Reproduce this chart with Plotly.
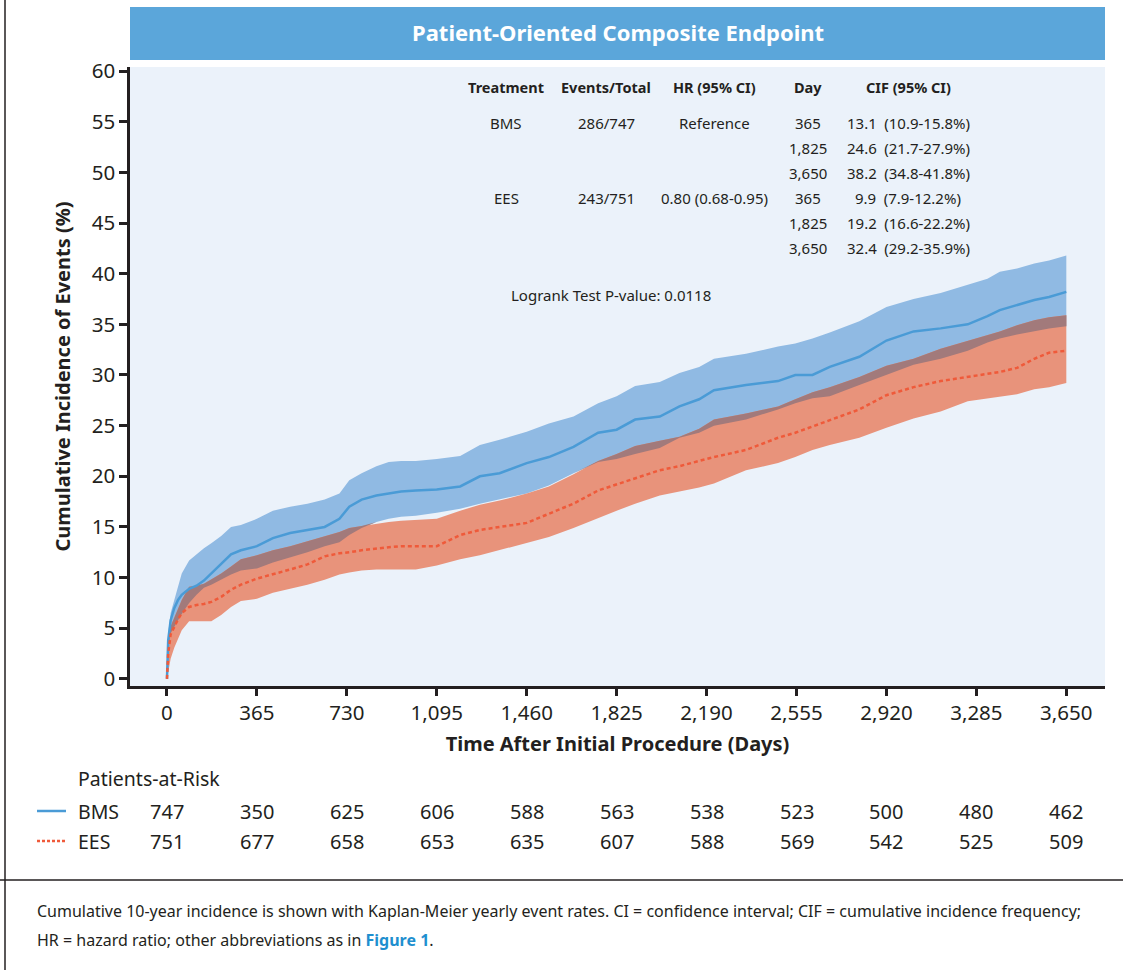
import numpy as np
import plotly.graph_objects as go

# ---- Data -----------------------------------------------------------------
days = [0, 5, 15, 30, 45, 60, 90, 120, 150, 180, 220, 260, 300, 365, 430, 500,
        570, 640, 700, 740, 790, 850, 900, 950, 1010, 1095, 1190, 1270, 1350,
        1460, 1550, 1650, 1750, 1825, 1900, 2000, 2080, 2160, 2220, 2350, 2480,
        2550, 2620, 2690, 2810, 2920, 3030, 3140, 3250, 3330, 3380, 3450, 3520,
        3580, 3650]

bms_cif = [0, 3.8, 5.8, 7.0, 7.8, 8.3, 8.9, 9.2, 9.7, 10.4, 11.4, 12.3, 12.7, 13.1,
           13.9, 14.4, 14.7, 15.0, 15.8, 17.0, 17.7, 18.1, 18.3, 18.5, 18.6, 18.7,
           19.0, 20.0, 20.3, 21.3, 21.9, 22.9, 24.3, 24.6, 25.6, 25.9, 26.9, 27.6,
           28.5, 29.0, 29.4, 30.0, 30.0, 30.8, 31.8, 33.4, 34.3, 34.6, 35.0, 35.8,
           36.4, 36.9, 37.4, 37.7, 38.2]
bms_upper = [0, 4.5, 6.5, 7.8, 9.2, 10.4, 11.7, 12.3, 12.9, 13.4, 14.1, 15.0, 15.2,
             15.8, 16.6, 17.0, 17.3, 17.7, 18.3, 19.6, 20.3, 21.0, 21.4, 21.5, 21.5,
             21.7, 22.0, 23.1, 23.6, 24.4, 25.2, 25.9, 27.2, 27.9, 28.9, 29.3, 30.2,
             30.8, 31.6, 32.1, 32.8, 33.1, 33.6, 34.2, 35.3, 36.7, 37.5, 38.1, 38.9,
             39.5, 40.2, 40.5, 41.0, 41.3, 41.8]
bms_lower = [0, 3.0, 4.5, 5.2, 5.8, 6.4, 7.5, 8.3, 9.0, 9.3, 9.8, 10.3, 10.7, 10.9,
             11.5, 12.0, 12.5, 13.1, 13.5, 14.2, 14.9, 15.5, 15.8, 16.0, 16.1, 16.4,
             16.8, 17.3, 17.7, 18.3, 19.1, 20.3, 21.4, 21.7, 22.2, 22.8, 23.8, 24.3,
             25.0, 25.6, 26.6, 27.2, 27.7, 27.9, 29.0, 30.0, 31.0, 31.6, 32.4, 33.2,
             33.6, 34.0, 34.3, 34.6, 34.8]

ees_cif = [0, 2.5, 4.4, 5.2, 5.9, 6.5, 7.1, 7.3, 7.4, 7.6, 8.1, 8.8, 9.3, 9.9, 10.3,
           10.8, 11.3, 12.1, 12.4, 12.5, 12.7, 12.9, 13.0, 13.1, 13.1, 13.1, 14.2,
           14.7, 15.0, 15.4, 16.3, 17.3, 18.6, 19.2, 19.8, 20.6, 21.0, 21.5, 21.9,
           22.6, 23.8, 24.3, 24.9, 25.5, 26.6, 28.0, 28.8, 29.4, 29.8, 30.1, 30.3,
           30.7, 31.6, 32.2, 32.4]
ees_upper = [0, 3.8, 5.2, 6.1, 7.0, 7.8, 9.1, 9.2, 9.4, 9.8, 10.4, 11.1, 11.8, 12.2,
             12.7, 13.1, 13.6, 14.1, 14.5, 14.9, 15.1, 15.3, 15.5, 15.6, 15.7, 15.8,
             16.6, 17.2, 17.6, 18.3, 19.0, 20.2, 21.5, 22.2, 23.0, 23.5, 23.9, 24.7,
             25.6, 26.2, 26.9, 27.6, 28.3, 28.8, 29.8, 30.9, 31.6, 32.6, 33.4, 34.0,
             34.3, 34.9, 35.4, 35.7, 35.9]
ees_lower = [0, 0.6, 2.0, 3.1, 4.0, 4.8, 5.7, 5.7, 5.7, 5.7, 6.3, 7.1, 7.7, 7.9, 8.5,
             8.9, 9.3, 9.8, 10.3, 10.5, 10.7, 10.8, 10.8, 10.8, 10.8, 11.2, 11.8, 12.2,
             12.7, 13.4, 14.0, 14.9, 15.9, 16.6, 17.3, 18.1, 18.5, 18.9, 19.3, 20.6,
             21.3, 21.9, 22.6, 23.1, 23.8, 24.8, 25.7, 26.4, 27.4, 27.7, 27.9, 28.1,
             28.6, 28.8, 29.2]

tick_days = [0, 365, 730, 1095, 1460, 1825, 2190, 2555, 2920, 3285, 3650]
tick_text = ["0", "365", "730", "1,095", "1,460", "1,825", "2,190", "2,555",
             "2,920", "3,285", "3,650"]
bms_at_risk = [747, 350, 625, 606, 588, 563, 538, 523, 500, 480, 462]
ees_at_risk = [751, 677, 658, 653, 635, 607, 588, 569, 542, 525, 509]

table_header = ["Treatment", "Events/Total", "HR (95% CI)", "Day", "CIF (95% CI)"]
table_groups = ["BMS", "EES"]
table_events = ["286/747", "243/751"]
table_hr = ["Reference", "0.80 (0.68-0.95)"]
table_days = ["365", "1,825", "3,650"]
cif_value = [["13.1", "24.6", "38.2"], ["9.9", "19.2", "32.4"]]
cif_interval = [["(10.9-15.8%)", "(21.7-27.9%)", "(34.8-41.8%)"],
                ["(7.9-12.2%)", "(16.6-22.2%)", "(29.2-35.9%)"]]

# ---- Styling --------------------------------------------------------------
FONT = "Noto Sans"
INK = "#231f20"
BLUE_LINE = "#4a9bd6"
BLUE_BAND = "#90bae3"
RED_LINE = "#ef5a3a"
RED_BAND = "#e8937b"
BOTH_BAND = "#a27a7b"
PLOT_BG = "#ebf2fa"
HEADER_BG = "#5ba6da"
SHAPE = "linear"

W, H = 1123, 970
L, R, T, B = 130, 1105, 67, 686   # plotting-area box in pixels


def px(x):
    return (x - L) / (R - L)


def py(y):
    return (B - y) / (B - T)


# region where both confidence bands cover the same values
both_lo = np.maximum(bms_lower, ees_lower)
both_hi = np.minimum(bms_upper, ees_upper)
both_hi = np.maximum(both_hi, both_lo)

fig = go.Figure()


def band(lo, hi, color):
    fig.add_trace(go.Scatter(x=days, y=lo, mode="lines", line=dict(width=0, shape=SHAPE),
                             hoverinfo="skip", showlegend=False))
    fig.add_trace(go.Scatter(x=days, y=hi, mode="lines", line=dict(width=0, shape=SHAPE),
                             fill="tonexty", fillcolor=color, hoverinfo="skip",
                             showlegend=False))


band(bms_lower, bms_upper, BLUE_BAND)
band(ees_lower, ees_upper, RED_BAND)
band(both_lo, both_hi, BOTH_BAND)

fig.add_trace(go.Scatter(x=days, y=bms_cif, mode="lines", name="BMS",
                         line=dict(color=BLUE_LINE, width=2.5, shape=SHAPE),
                         showlegend=False))
fig.add_trace(go.Scatter(x=days, y=ees_cif, mode="lines", name="EES",
                         line=dict(color=RED_LINE, width=2.5, shape=SHAPE, dash="4px,3px"),
                         showlegend=False))

tick_font = dict(family=FONT, size=20.5, color=INK)
title_font = dict(family=FONT, size=20, color=INK)
fig.update_xaxes(range=[-150, 3807], tickvals=tick_days, ticktext=tick_text,
                 showgrid=False, zeroline=False, showline=True, linecolor=INK,
                 linewidth=2.5, ticks="outside", ticklen=7, tickwidth=2.5,
                 tickcolor=INK, tickfont=tick_font,
                 title=dict(text="<b>Time After Initial Procedure (Days)</b>",
                            font=title_font, standoff=12))
fig.update_yaxes(range=[-0.7, 60.4], tickvals=list(range(0, 61, 5)),
                 showgrid=False, zeroline=False, showline=True, linecolor=INK,
                 linewidth=2.5, ticks="outside", ticklen=8, tickwidth=2.5,
                 tickcolor=INK, tickfont=tick_font,
                 title=dict(text="<b>Cumulative Incidence of Events (%)</b>",
                            font=title_font, standoff=16))

shapes = [
    # header bar
    dict(type="rect", xref="paper", yref="paper", x0=px(130), x1=px(1105),
         y0=py(60), y1=py(7), fillcolor=HEADER_BG, line=dict(width=0), layer="below"),
    # page frame
    dict(type="line", xref="paper", yref="paper", x0=px(5), x1=px(5),
         y0=py(0), y1=py(970), line=dict(color=INK, width=1.5)),
    dict(type="line", xref="paper", yref="paper", x0=px(0), x1=px(1123),
         y0=py(880), y1=py(880), line=dict(color=INK, width=1.5)),
    # at-risk legend keys
    dict(type="line", xref="paper", yref="paper", x0=px(37), x1=px(66),
         y0=py(811), y1=py(811), line=dict(color=BLUE_LINE, width=2.5)),
    dict(type="line", xref="paper", yref="paper", x0=px(37), x1=px(66),
         y0=py(841), y1=py(841), line=dict(color=RED_LINE, width=2.5, dash="3px,2px")),
]

ann = []


def text(x, y, s, size=15, bold=False, color=INK, xanchor="center", xref="paper"):
    if bold:
        s = "<b>" + s + "</b>"
    ann.append(dict(x=x, y=py(y), xref=xref, yref="paper", text=s, showarrow=False,
                    xanchor=xanchor, yanchor="middle",
                    font=dict(family=FONT, size=size, color=color)))


text(px(617.5), 32, "Patient-Oriented Composite Endpoint", size=22, bold=True, color="white")

# summary table
col_x = [506, 606, 714, 808, 908]
for cx, h in zip(col_x, table_header):
    text(px(cx), 87, h, size=14.5, bold=True)
row_y = 123
for g in range(2):
    text(px(col_x[0]), row_y, table_groups[g], size=15)
    text(px(col_x[1]), row_y, table_events[g], size=15)
    text(px(col_x[2]), row_y, table_hr[g], size=15)
    for k in range(3):
        text(px(col_x[3]), row_y, table_days[k], size=15)
        text(px(col_x[4]), row_y, cif_value[g][k] + "\u2002" + cif_interval[g][k], size=15)
        row_y += 25
text(px(611), 295, "Logrank Test P-value: 0.0118", size=15)

# patients at risk
text(px(76), 778, "Patients-at-Risk", size=19.5, xanchor="left")
text(px(76), 811, "BMS", size=19.5, xanchor="left")
text(px(76), 841, "EES", size=19.5, xanchor="left")
for d, nb, ne in zip(tick_days, bms_at_risk, ees_at_risk):
    text(d, 811, str(nb), size=20, xref="x")
    text(d, 841, str(ne), size=20, xref="x")

# caption
text(px(35), 911, "Cumulative 10-year incidence is shown with Kaplan-Meier yearly event rates. "
     "CI = confidence interval; CIF = cumulative incidence frequency;",
     size=16, xanchor="left")
text(px(35), 940, "HR = hazard ratio; other abbreviations as in "
     "<b><span style='color:#1f8fcf'>Figure 1</span></b>.", size=16, xanchor="left")

fig.update_layout(width=W, height=H, margin=dict(l=L, r=W - R, t=T, b=H - B),
                  paper_bgcolor="white", plot_bgcolor=PLOT_BG, shapes=shapes,
                  annotations=ann, font=dict(family=FONT, color=INK))

fig.write_html("out.html")
